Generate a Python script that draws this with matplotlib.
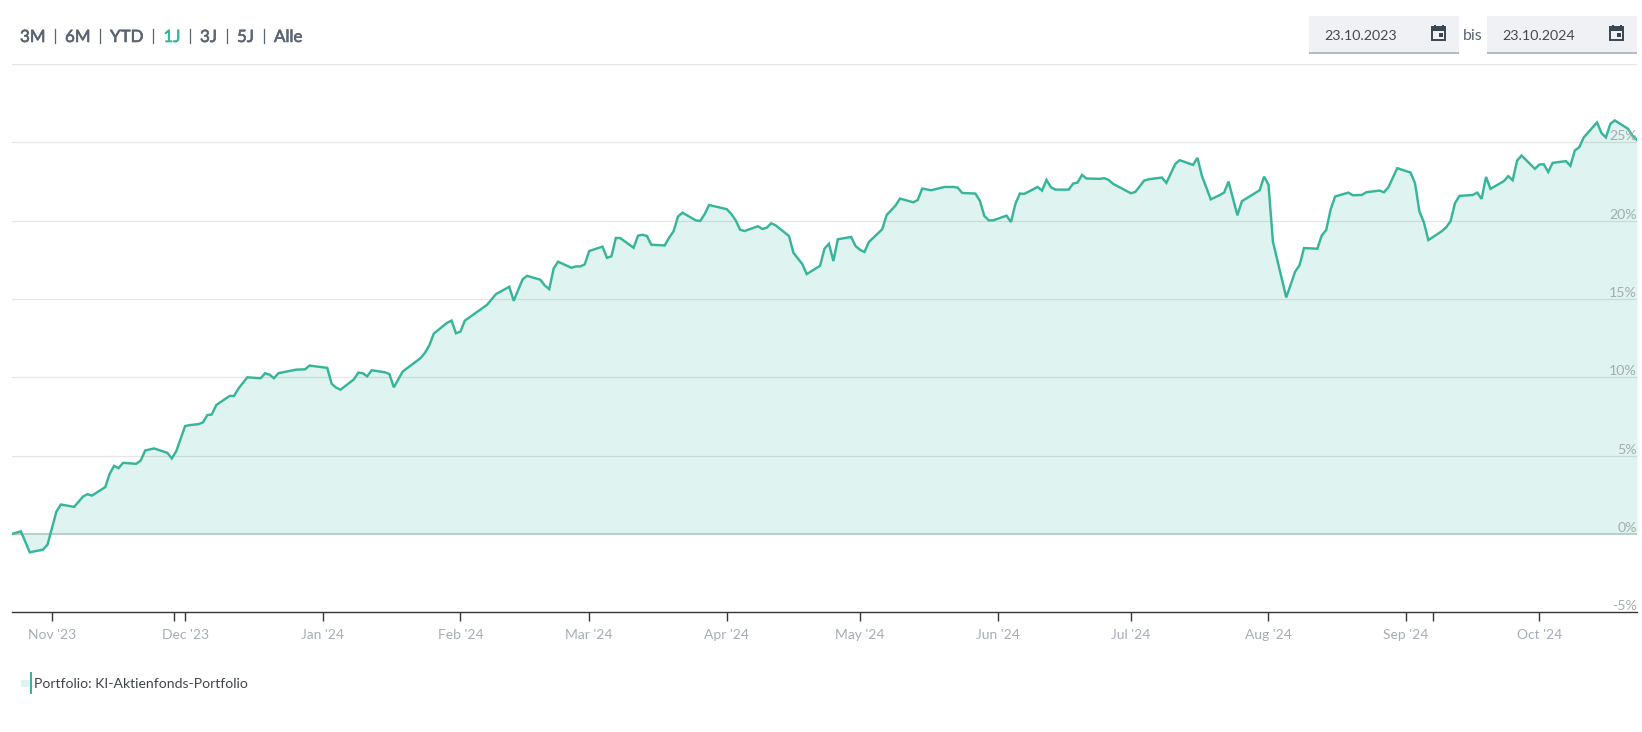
import numpy as np
import matplotlib
matplotlib.use('Agg')
import matplotlib.pyplot as plt
import matplotlib.patheffects as pe
from matplotlib.patches import Rectangle

plt.rcParams['font.family'] = ['Lato', 'DejaVu Sans']

W, H = 1642, 732
START = np.datetime64('2023-10-23')

# days since 23.10.2023 and performance in percent
day_offsets = [
    0, 2, 4, 7, 8, 10, 11, 14, 16, 17, 18, 21, 22, 23, 24, 25, 28, 29, 30, 32,
    35, 36, 37, 39, 40, 42, 43, 44, 45, 46, 49, 50, 51, 53, 56, 57, 58, 59, 60,
    64, 66, 67, 71, 72, 73, 74, 77, 78, 79, 80, 81, 84, 85, 86, 88, 92, 93, 94,
    95, 98, 99, 100, 101, 102, 107, 109, 112, 113, 115, 116, 119, 120, 121, 122,
    123, 126, 127, 128, 129, 130, 133, 134, 135, 136, 137, 140, 141, 142, 143,
    144, 147, 148, 149, 150, 151, 154, 155, 156, 157, 161, 162, 163, 164, 165,
    168, 169, 170, 171, 172, 175, 176, 177, 178, 179, 182, 183, 184, 185, 186,
    189, 190, 191, 192, 193, 196, 197, 199, 200, 203, 204, 205, 207, 210, 212,
    213, 214, 217, 218, 219, 220, 221, 224, 225, 226, 227, 228, 231, 232, 233,
    234, 235, 238, 239, 240, 241, 242, 245, 246, 247, 248, 252, 253, 255, 256,
    259, 260, 262, 263, 266, 267, 268, 270, 272, 273, 274, 276, 277, 281, 282,
    283, 284, 287, 289, 290, 291, 294, 295, 296, 297, 298, 301, 302, 304, 305,
    308, 309, 310, 312, 315, 316, 317, 318, 319, 322, 323, 324, 325, 326, 329,
    330, 331, 332, 333, 336, 337, 338, 339, 340, 343, 344, 345, 346, 347, 350,
    351, 352, 353, 354, 357, 358, 359, 360, 361, 364, 365, 366,
]
performance = [
    0.00, 0.17, -1.17, -1.00, -0.68, 1.43, 1.88, 1.73, 2.39, 2.54, 2.45, 2.99,
    3.84, 4.35, 4.20, 4.54, 4.48, 4.69, 5.33, 5.46, 5.18, 4.82, 5.29, 6.89,
    6.95, 7.01, 7.12, 7.59, 7.63, 8.23, 8.81, 8.81, 9.28, 10.00, 9.94, 10.26,
    10.17, 9.94, 10.26, 10.49, 10.51, 10.75, 10.60, 9.59, 9.34, 9.21, 9.87,
    10.30, 10.26, 10.06, 10.45, 10.32, 10.21, 9.36, 10.37, 11.22, 11.56, 12.05,
    12.79, 13.48, 13.62, 12.81, 12.92, 13.62, 14.63, 15.31, 15.78, 14.88, 16.25,
    16.48, 16.23, 15.86, 15.63, 16.95, 17.38, 16.99, 17.08, 17.08, 17.21, 18.06,
    18.34, 17.63, 17.72, 18.89, 18.89, 18.27, 19.04, 19.10, 19.02, 18.46, 18.42,
    18.91, 19.32, 20.26, 20.51, 20.02, 19.98, 20.41, 21.00, 20.73, 20.43, 20.02,
    19.42, 19.34, 19.64, 19.47, 19.55, 19.83, 19.70, 19.02, 17.95, 17.59, 17.23,
    16.59, 17.12, 18.21, 18.53, 17.42, 18.81, 18.96, 18.38, 18.14, 18.00, 18.64,
    19.45, 20.36, 20.96, 21.41, 21.17, 21.32, 22.05, 21.94, 22.15, 22.15, 22.11,
    21.77, 21.73, 21.26, 20.30, 20.02, 20.02, 20.32, 19.91, 21.07, 21.73, 21.71,
    22.15, 21.92, 22.60, 22.13, 21.98, 21.98, 22.37, 22.43, 22.92, 22.69, 22.67,
    22.71, 22.60, 22.35, 21.75, 21.83, 22.56, 22.64, 22.75, 22.41, 23.62, 23.86,
    23.56, 24.01, 22.86, 21.36, 21.63, 21.79, 22.49, 20.34, 21.24, 21.94, 22.81,
    22.30, 18.66, 15.10, 16.74, 17.16, 18.25, 18.21, 19.06, 19.40, 20.72, 21.54,
    21.79, 21.62, 21.64, 21.81, 21.92, 21.81, 22.13, 23.35, 23.07, 22.39, 20.58,
    19.89, 18.76, 19.32, 19.57, 19.96, 21.11, 21.58, 21.64, 21.79, 21.39, 22.79,
    22.03, 22.52, 22.84, 22.58, 23.84, 24.16, 23.31, 23.58, 23.60, 23.11, 23.69,
    23.80, 23.50, 24.48, 24.69, 25.31, 26.27, 25.59, 25.31, 26.18, 26.40, 25.86,
    25.42, 25.16,
]

y_ticks = [-5, 0, 5, 10, 15, 20, 25]
x_tick_dates = ['2023-11-01', '2023-11-28T13', '2023-12-01', '2024-01-01', '2024-02-01',
                '2024-03-01', '2024-04-01', '2024-05-01', '2024-06-01', '2024-07-01',
                '2024-08-01', '2024-09-01', '2024-09-07', '2024-10-01']
x_tick_labels = ["Nov '23", '', "Dec '23", "Jan '24", "Feb '24", "Mar '24", "Apr '24",
                 "May '24", "Jun '24", "Jul '24", "Aug '24", "Sep '24", '', "Oct '24"]

ranges = ['3M', '6M', 'YTD', '1J', '3J', '5J', 'Alle']
active_range = '1J'
date_from = '23.10.2023'
date_to = '23.10.2024'
legend_label = 'Portfolio: KI-Aktienfonds-Portfolio'

TEAL = '#37b59a'
FILL = '#dff4f0'
GREY_TEXT = '#a7adb8'
DARK_TEXT = '#5b6472'

fig = plt.figure(figsize=(W / 100, H / 100), dpi=100, facecolor='white')

# plot area: x 12..1637 px, y 64..612 px
ax = fig.add_axes([12 / W, 1 - 612.3 / H, 1625 / W, 548.3 / H])
dates = START + np.array(day_offsets).astype('timedelta64[D]')
values = np.array(performance)

ax.fill_between(dates, values, 0, color=FILL, linewidth=0, zorder=1)
for tick in y_ticks[1:] + [30]:
    if tick == 0:
        ax.axhline(tick, color='#a9c3bf', lw=1.1, zorder=2)
    else:
        ax.axhline(tick, color='black', alpha=0.1, lw=0.9, zorder=2)
ax.plot(dates, values, color=TEAL, lw=1.75, solid_joinstyle='miter', zorder=3)

ax.set_xlim(START, START + np.timedelta64(366, 'D'))
ax.set_ylim(-5, 30)
ax.set_yticks([])
ax.set_xticks(np.array(x_tick_dates, dtype='datetime64[h]'), x_tick_labels)
ax.tick_params(axis='x', length=6.7, width=1.0, color='#33363b', labelcolor=GREY_TEXT,
               labelsize=10, pad=5.5)
for side in ['top', 'left', 'right']:
    ax.spines[side].set_visible(False)
ax.spines['bottom'].set_color('#33363b')
ax.spines['bottom'].set_linewidth(1.0)
ax.patch.set_alpha(0)

for tick in y_ticks:
    ax.annotate(f'{tick}%', xy=(1, tick), xycoords=('axes fraction', 'data'),
                xytext=(0, 0), textcoords='offset points', ha='right', va='bottom',
                color='#a4acb0', fontsize=10.2, zorder=4)

# controls and legend, placed in pixel coordinates
ui = fig.add_axes([0, 0, 1, 1], zorder=5)
ui.set_xlim(0, W)
ui.set_ylim(H, 0)
ui.axis('off')

range_x = [20, 65, 110, 163.5, 200, 237, 274]
for label, x in zip(ranges, range_x):
    color = TEAL if label == active_range else DARK_TEXT
    # thin outline gives the semi-bold look of the tabs
    ui.text(x, 37, label, fontsize=12.2, color=color, va='center', ha='left',
            path_effects=[pe.withStroke(linewidth=0.45, foreground=color)])
for x in [54.5, 99.5, 152.5, 189.5, 226.5, 263.5]:
    ui.plot([x, x], [29, 43], color=DARK_TEXT, lw=0.9)


def date_box(x, text):
    ui.add_patch(Rectangle((x, 16), 150, 37, facecolor='#f0f1f5', edgecolor='none'))
    ui.add_patch(Rectangle((x, 51.5), 150, 2, facecolor='#b7b9c6', edgecolor='none'))
    ui.text(x + 15.5, 36, text, fontsize=10.3, color='#444a52', va='center', ha='left')
    # calendar icon
    ix = x + 122.2
    ui.add_patch(Rectangle((ix + 0.8, 27), 13, 13, facecolor='none', edgecolor='#3c4650', lw=1.4))
    ui.add_patch(Rectangle((ix, 26.5), 14.6, 4, facecolor='#3c4650', edgecolor='none'))
    ui.add_patch(Rectangle((ix + 2.3, 24.5), 2, 3, facecolor='#3c4650', edgecolor='none'))
    ui.add_patch(Rectangle((ix + 10.3, 24.5), 2, 3, facecolor='#3c4650', edgecolor='none'))
    ui.add_patch(Rectangle((ix + 7.6, 32.8), 4.2, 4.2, facecolor='#3c4650', edgecolor='none'))


date_box(1309, date_from)
date_box(1487, date_to)
ui.text(1463, 36, 'bis', fontsize=11.5, color=DARK_TEXT, va='center', ha='left')

ui.add_patch(Rectangle((21, 680), 9, 6.5, facecolor=FILL, edgecolor='none'))
ui.add_patch(Rectangle((30, 672), 2, 21.5, facecolor=TEAL, edgecolor='none'))
ui.text(34.5, 684, legend_label, fontsize=10.1, color='#40454b', va='center', ha='left')

fig.savefig('out.png', dpi=100)
